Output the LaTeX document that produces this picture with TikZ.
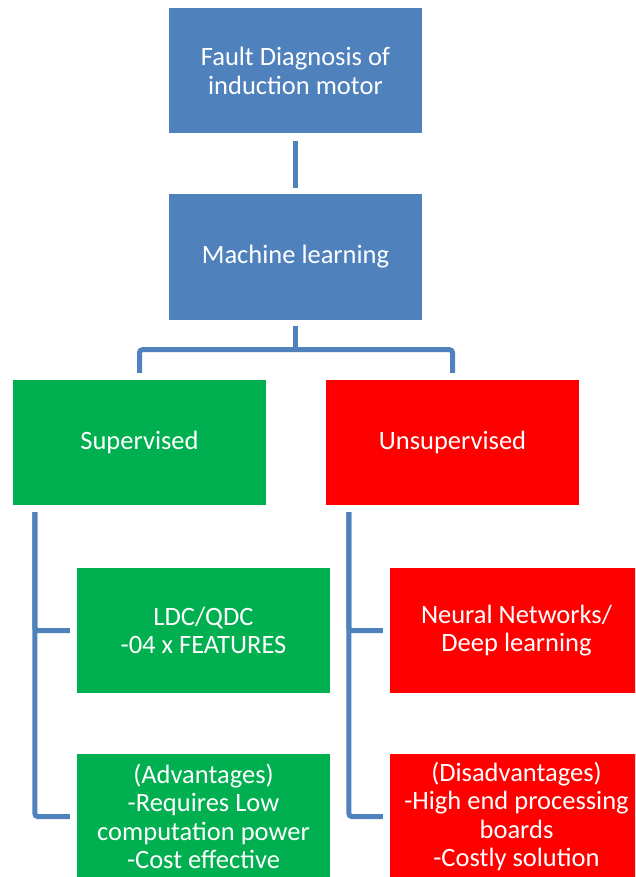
\documentclass[tikz,border=0pt]{standalone}
\usepackage{fontspec}
\setmainfont{Carlito}
\usepackage{xcolor}
\usepackage{tikz}
\usetikzlibrary{positioning,calc}
\definecolor{officeblue}{RGB}{79,129,189}
\definecolor{supgreen}{RGB}{0,176,80}
\definecolor{unsupred}{RGB}{255,0,0}

\tikzset{
    box/.style={minimum width=253pt, minimum height=125pt, inner sep=0pt,
        text=white, align=center, font=\fontsize{26.5}{28.5}\selectfont},
    link/.style={officeblue, line width=5pt, rounded corners=3pt}
}

\begin{document}
\begin{tikzpicture}[x=1pt, y=-1pt]
    \clip (0,0) rectangle (635,877);
    \fill[white] (0,0) rectangle (635,877);

    % Top levels
    \node[box, fill=officeblue] (fault) at (295.5,71) {Fault Diagnosis of\\induction motor};
    \node[box, fill=officeblue] (ml) at (295.5,257) {Machine learning};

    % Two kinds of learning
    \node[box, fill=supgreen] (sup) at (139.5,442.5) {Supervised};
    \node[box, fill=unsupred] (unsup) at (452.5,442.5) {Unsupervised};

    % Details
    \node[box, fill=supgreen] (ldc) at (203.5,630.5) {LDC/QDC\\-04 x FEATURES};
    \node[box, fill=unsupred] (neural) at (516.5,630.5) {Neural Networks/\\Deep learning};
    \node[box, fill=supgreen] (adv) at (203.5,816.5) {(Advantages)\\-Requires Low\\computation power\\-Cost effective};
    \node[box, fill=unsupred] (disadv) at (516.5,816.5) {(Disadvantages)\\-High end processing\\boards\\-Costly solution};

    % Connectors
    \draw[link, shorten <=7pt, shorten >=6pt] (fault.south) -- (ml.north);
    \coordinate (split) at ([yshift=-30pt]ml.south);
    \draw[link] ([yshift=-6pt]ml.south) -- (split);
    \draw[link] ([yshift=7pt]sup.north) |- (split) -| ([yshift=7pt]unsup.north);

    \coordinate (supspine) at ([xshift=22pt,yshift=-7pt]sup.south west);
    \draw[link] (supspine) |- ([xshift=-7pt]adv.west);
    \draw[link] (supspine) |- ([xshift=-7pt]ldc.west);

    \coordinate (unsupspine) at ([xshift=23pt,yshift=-7pt]unsup.south west);
    \draw[link] (unsupspine) |- ([xshift=-7pt]disadv.west);
    \draw[link] (unsupspine) |- ([xshift=-7pt]neural.west);
\end{tikzpicture}
\end{document}
